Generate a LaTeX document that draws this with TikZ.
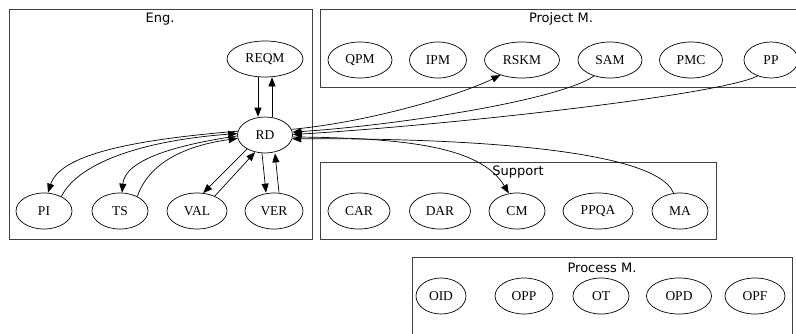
\documentclass[tikz,border=0pt]{standalone}
\usepackage{fontspec}
\setmainfont{Liberation Serif}
\newfontfamily\clusterfont{DejaVu Sans}
\usetikzlibrary{shapes.geometric,arrows.meta}

\begin{document}
\begin{tikzpicture}[x=1pt, y=-1pt,
      every node/.style = {inner sep=0pt},
      area/.style = {ellipse, draw, line width=0.7pt, minimum height=36pt,
        font=\fontsize{13.5}{16}\selectfont},
      cluster/.style = {draw=black!75, line width=0.9pt},
      clabel/.style = {font=\clusterfont\fontsize{13}{15}\selectfont},
      flow/.style = {-{Triangle[length=9pt,width=7pt]}, line width=0.7pt}]
    \useasboundingbox (0,0) rectangle (796,333);
    \clip (0,0) rectangle (796,333);

    \draw[cluster] (9,9) rectangle (312,239);
    \draw[cluster] (320,9) rectangle (803,87);
    \draw[cluster] (320,162) rectangle (716,239);
    \draw[cluster] (412,257) rectangle (792,340);
    \node[clabel] (eng) at (160,19) {Eng.};
    \node[clabel] (projm) at (561,19) {Project M.};
    \node[clabel] (supp) at (518,172) {Support};
    \node[clabel] (procm) at (602,268) {Process M.};

    \node[area, minimum width=76pt] (reqm) at (265,59) {REQM};
    \node[area, minimum width=55pt] (rd) at (265,135) {RD};
    \node[area, minimum width=56pt] (pi) at (44,211) {PI};
    \node[area, minimum width=56pt] (ts) at (120,211) {TS};
    \node[area, minimum width=60pt] (val) at (197,211) {VAL};
    \node[area, minimum width=58pt] (ver) at (274,211) {VER};

    \node[area, minimum width=64pt] (qpm) at (360,60) {QPM};
    \node[area, minimum width=57pt] (ipm) at (438,60) {IPM};
    \node[area, minimum width=75pt] (rskm) at (522,60) {RSKM};
    \node[area, minimum width=64pt] (sam) at (610,60) {SAM};
    \node[area, minimum width=63pt] (pmc) at (691,60) {PMC};
    \node[area, minimum width=54pt] (pp) at (771,60) {PP};

    \node[area, minimum width=62pt] (car) at (359,211) {CAR};
    \node[area, minimum width=61pt] (dar) at (440,211) {DAR};
    \node[area, minimum width=56pt] (cm) at (517,211) {CM};
    \node[area, minimum width=70pt] (ppqa) at (598,211) {PPQA};
    \node[area, minimum width=56pt] (ma) at (680,211) {MA};

    \node[area, minimum width=50pt] (oid) at (441,296) {OID};
    \node[area, minimum width=58pt] (opp) at (524,296) {OPP};
    \node[area, minimum width=56pt] (ot) at (601,296) {OT};
    \node[area, minimum width=65pt] (opd) at (679,296) {OPD};
    \node[area, minimum width=60pt] (opf) at (755,296) {OPF};

    \draw[flow] ([xshift=-7]reqm.south) -- ([xshift=-7]rd.north);
    \draw[flow] ([xshift=7]rd.north) -- ([xshift=7]reqm.south);
    \draw[flow] (rd.172) .. controls (130,140) and (60,155) .. ([xshift=4]pi.north);
    \draw[flow] (pi.40) .. controls (80,160) and (150,140) .. (rd.177);
    \draw[flow] (rd.182) .. controls (175,145) and (125,160) .. ([xshift=2]ts.north);
    \draw[flow] (ts.40) .. controls (150,160) and (190,145) .. (rd.187);
    \draw[flow] (rd.-142) -- (val.71);
    \draw[flow] (val.40) -- (rd.-120);
    \draw[flow] ([xshift=-3]rd.south) -- ([xshift=-8]ver.north);
    \draw[flow] ([xshift=5]ver.north) -- ([xshift=10]rd.south);
    \draw[flow] (rd.12) .. controls (370,122) and (460,95) .. (rskm.-145);
    \draw[flow] (sam.-135) .. controls (560,100) and (400,125) .. (rd.6);
    \draw[flow] (pp.-130) .. controls (720,95) and (450,125) .. (rd.1);
    \draw[flow] (rd.-4) .. controls (400,138) and (480,145) .. (cm.115);
    \draw[flow] (ma.110) .. controls (655,145) and (430,138) .. (rd.-8);
\end{tikzpicture}
\end{document}
